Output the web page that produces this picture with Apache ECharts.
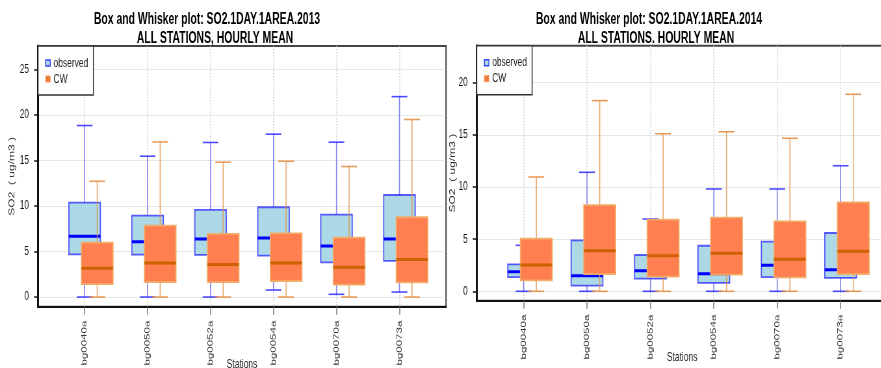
<!DOCTYPE html>
<html>
<head>
<meta charset="utf-8">
<title>SO2 box and whisker plots</title>
<script src="https://cdn.jsdelivr.net/npm/echarts@6/dist/echarts.min.js"></script>
<style>
  html, body { margin: 0; padding: 0; background: #fff; overflow: hidden; width: 881px; height: 368px; }
  /* The figure is laid out on a wider canvas and compressed horizontally */
  #chart { width: 1355px; height: 368px; transform: scaleX(0.65); transform-origin: 0 0; }
</style>
</head>
<body>
<div id="chart"></div>
<script>
// Monitoring stations (x categories)
const stations = ['bg0040a', 'bg0050a', 'bg0052a', 'bg0054a', 'bg0070a', 'bg0073a'];

// Five-number summaries per station: [lower whisker, Q1, median, Q3, upper whisker]
const obs2013 = [
  [0.00, 4.69, 6.67, 10.37, 18.83],
  [0.00, 4.66, 6.08, 8.94, 15.46],
  [0.00, 4.62, 6.37, 9.56, 16.97],
  [0.77, 4.55, 6.48, 9.86, 17.88],
  [0.30, 3.81, 5.60, 9.05, 17.00],
  [0.55, 3.96, 6.37, 11.20, 22.00]
];
const cw2013 = [
  [0.00, 1.43, 3.15, 5.97, 12.71],
  [0.00, 1.65, 3.74, 7.84, 17.03],
  [0.00, 1.65, 3.56, 6.92, 14.80],
  [0.00, 1.76, 3.74, 7.00, 14.91],
  [0.00, 1.36, 3.26, 6.53, 14.33],
  [0.00, 1.62, 4.11, 8.76, 19.49]
];
const obs2014 = [
  [0.00, 1.37, 1.88, 2.59, 4.41],
  [0.00, 0.54, 1.50, 4.89, 11.41],
  [0.00, 1.21, 1.98, 3.48, 6.93],
  [0.00, 0.80, 1.69, 4.37, 9.81],
  [0.00, 1.37, 2.49, 4.76, 9.81],
  [0.00, 1.28, 2.07, 5.59, 12.04]
];
const cw2014 = [
  [0.00, 1.05, 2.52, 5.04, 10.96],
  [0.00, 1.66, 3.90, 8.27, 18.28],
  [0.00, 1.40, 3.42, 6.87, 15.11],
  [0.00, 1.60, 3.64, 7.06, 15.30],
  [0.00, 1.34, 3.07, 6.71, 14.67],
  [0.00, 1.66, 3.84, 8.53, 18.89]
];

// Axis tick values
const yTicks2013 = [0, 5, 10, 15, 20, 25];
const yTicks2014 = [0, 5, 10, 15, 20];
const xTicks = [1, 2, 3, 4, 5, 6];

const FONT = "'Liberation Sans', Arial, Helvetica, sans-serif";

const styles = {
  observed: {
    offset: 0,
    fill: '#ADD8E6',
    border: 'rgba(40,40,255,0.75)',
    median: '#0000FF',
    whisker: 'rgba(60,60,255,0.6)',
    cap: 'rgba(30,30,255,0.8)'
  },
  CW: {
    offset: 0.2,
    fill: '#FF7F50',
    border: 'rgba(242,170,100,0.95)',
    median: '#CC6200',
    whisker: 'rgba(225,150,80,0.85)',
    cap: 'rgba(230,145,70,0.9)'
  }
};

const BOX_HALF = 0.25;
const CAP_HALF = 0.125;

function toRows(stats) {
  return stats.map((s, i) => [i + 1].concat(s));
}

function boxRenderer(st) {
  return function (params, api) {
    const x = api.value(0) + st.offset;
    const lo = api.value(1), q1 = api.value(2), med = api.value(3), q3 = api.value(4), hi = api.value(5);
    const pHi = api.coord([x, hi]);
    const pLo = api.coord([x, lo]);
    const pQ3L = api.coord([x - BOX_HALF, q3]);
    const pQ1R = api.coord([x + BOX_HALF, q1]);
    const pMedL = api.coord([x - BOX_HALF, med]);
    const pMedR = api.coord([x + BOX_HALF, med]);
    const capL = api.coord([x - CAP_HALF, hi])[0];
    const capR = api.coord([x + CAP_HALF, hi])[0];
    return {
      type: 'group',
      children: [
        { type: 'line', shape: { x1: pHi[0], y1: pHi[1], x2: pLo[0], y2: pLo[1] },
          style: { stroke: st.whisker, lineWidth: 1.6 } },
        { type: 'line', shape: { x1: capL, y1: pHi[1], x2: capR, y2: pHi[1] },
          style: { stroke: st.cap, lineWidth: 1.6 } },
        { type: 'line', shape: { x1: capL, y1: pLo[1], x2: capR, y2: pLo[1] },
          style: { stroke: st.cap, lineWidth: 1.6 } },
        { type: 'rect',
          shape: { x: pQ3L[0], y: pQ3L[1], width: pQ1R[0] - pQ3L[0], height: pQ1R[1] - pQ3L[1] },
          style: { fill: st.fill, stroke: st.border, lineWidth: 1.8 } },
        { type: 'line', shape: { x1: pMedL[0], y1: pMedL[1], x2: pMedR[0], y2: pMedR[1] },
          style: { stroke: st.median, lineWidth: 3 } }
      ]
    };
  };
}

function makeSeries(name, stats, gridIdx) {
  return {
    type: 'custom',
    name: name,
    xAxisIndex: gridIdx,
    yAxisIndex: gridIdx,
    renderItem: boxRenderer(styles[name]),
    encode: { x: 0, y: [1, 2, 3, 4, 5] },
    itemStyle: { color: styles[name].fill },
    data: toRows(stats),
    silent: true
  };
}

function xAxisFor(gridIdx, nameGap) {
  return {
    type: 'value',
    gridIndex: gridIdx,
    min: 0.26,
    max: 6.74,
    name: 'Stations',
    nameLocation: 'middle',
    nameGap: nameGap,
    nameMoveOverlap: false,
    nameTextStyle: { fontFamily: FONT, fontSize: 13, color: '#222' },
    axisLine: { show: true, onZero: false, lineStyle: { color: '#111', width: 2 } },
    axisTick: { show: true, customValues: xTicks, length: 8, lineStyle: { color: '#777', width: 1.5 } },
    axisLabel: {
      customValues: xTicks,
      rotate: 90,
      margin: 14,
      fontFamily: FONT,
      fontSize: 11.5,
      color: '#333',
      formatter: v => stations[Math.round(v) - 1]
    },
    splitLine: { show: true, lineStyle: { color: '#cfcfcf', type: 'dotted', width: 1.5 } }
  };
}

function yAxisFor(gridIdx, min, max, ticks, gap) {
  return {
    type: 'value',
    gridIndex: gridIdx,
    min: min,
    max: max,
    name: 'SO2  ( ug/m3 )',
    nameLocation: 'middle',
    nameRotate: 90,
    nameGap: gap,
    nameMoveOverlap: false,
    nameTextStyle: { fontFamily: FONT, fontSize: 12, color: '#333' },
    axisLine: { show: true, onZero: false, lineStyle: { color: '#111', width: 3 } },
    axisTick: { show: true, customValues: ticks, length: 6, lineStyle: { color: '#111', width: 1.5 } },
    axisLabel: { customValues: ticks, margin: 14, fontFamily: FONT, fontSize: 12.5, color: '#111' },
    splitLine: { show: true, lineStyle: { color: '#cfcfcf', type: 'dotted', width: 1 } }
  };
}

function legendFor(left, top) {
  return {
    left: left,
    top: top,
    orient: 'vertical',
    data: [
      { name: 'observed', icon: 'rect', itemStyle: { color: '#ADD8E6', borderColor: '#3344ff', borderWidth: 1.5 } },
      { name: 'CW', icon: 'rect', itemStyle: { color: '#F07838', borderColor: '#F4A060', borderWidth: 1 } }
    ],
    itemWidth: 7,
    itemHeight: 6,
    itemGap: 2,
    padding: [10, 8, 9, 11],
    backgroundColor: '#fff',
    borderColor: '#333',
    borderWidth: 1.5,
    borderRadius: 0,
    selectedMode: false,
    textStyle: { fontFamily: FONT, fontSize: 13, color: '#222', lineHeight: 14 }
  };
}

function titleText(x, y, text) {
  return {
    type: 'text',
    x: x,
    y: y,
    style: {
      text: text,
      font: 'bold 16px ' + FONT,
      fill: '#000',
      textAlign: 'center',
      textVerticalAlign: 'middle'
    }
  };
}

const chart = echarts.init(document.getElementById('chart'), null, { renderer: 'canvas' });

const gridBase = { show: true, borderColor: '#444', borderWidth: 2, backgroundColor: 'transparent', containLabel: false, outerBoundsMode: 'none' };

chart.setOption({
  animation: false,
  backgroundColor: '#fff',
  grid: [
    Object.assign({ left: 58.5, top: 46, width: 627.7, height: 260.7 }, gridBase),
    Object.assign({ left: 733.4, top: 45.7, width: 632, height: 255 }, gridBase)
  ],
  xAxis: [xAxisFor(0, 51), xAxisFor(1, 50)],
  yAxis: [
    yAxisFor(0, -1.06, 27.56, yTicks2013, 34),
    yAxisFor(1, -0.9, 23.55, yTicks2014, 30.5)
  ],
  legend: [legendFor(58.5, 46), legendFor(733.4, 45.7)],
  graphic: [
    titleText(318.5, 19.5, 'Box and Whisker plot: SO2.1DAY.1AREA.2013'),
    titleText(330.8, 38.5, 'ALL STATIONS, HOURLY MEAN'),
    titleText(998.5, 19.5, 'Box and Whisker plot: SO2.1DAY.1AREA.2014'),
    titleText(1009.2, 38.5, 'ALL STATIONS. HOURLY MEAN')
  ],
  series: [
    makeSeries('observed', obs2013, 0),
    makeSeries('CW', cw2013, 0),
    makeSeries('observed', obs2014, 1),
    makeSeries('CW', cw2014, 1)
  ]
});
</script>
</body>
</html>
